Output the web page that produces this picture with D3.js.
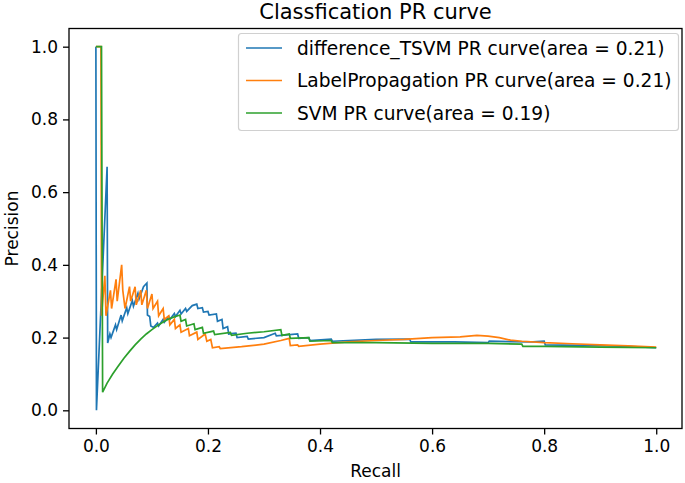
<!DOCTYPE html>
<html>
<head>
<meta charset="utf-8">
<script src="https://cdn.jsdelivr.net/npm/d3@7"></script>
<style>
  html, body { margin: 0; padding: 0; background: #fff; }
  svg { display: block; font-family: "DejaVu Sans", sans-serif; }
</style>
</head>
<body>
<svg id="chart" width="685" height="483"></svg>
<script>
// ---------- data ----------
const seriesNames = [
  "difference_TSVM PR curve(area = 0.21)",
  "LabelPropagation PR curve(area = 0.21)",
  "SVM PR curve(area = 0.19)"
];
const seriesColors = ["#1f77b4", "#ff7f0e", "#2ca02c"];

const tsvmRecall = [0, 0.001, 0.020, 0.021, 0.025, 0.027, 0.035, 0.037, 0.045, 0.047, 0.055, 0.057, 0.065, 0.067, 0.075, 0.077, 0.085, 0.091, 0.092, 0.096, 0.098, 0.103, 0.110, 0.112, 0.120, 0.122, 0.130, 0.132, 0.140, 0.142, 0.150, 0.152, 0.160, 0.162, 0.172, 0.180, 0.182, 0.190, 0.192, 0.200, 0.202, 0.215, 0.217, 0.225, 0.227, 0.235, 0.237, 0.250, 0.252, 0.270, 0.272, 0.300, 0.320, 0.322, 0.360, 0.362, 0.380, 0.382, 0.420, 0.422, 0.500, 0.560, 0.562, 0.640, 0.700, 0.702, 0.780, 0.800, 0.802, 0.900, 0.950, 1.000];
const tsvmPrecision = [1.0, 0.0, 0.67, 0.185, 0.210, 0.200, 0.235, 0.222, 0.262, 0.246, 0.282, 0.266, 0.302, 0.286, 0.322, 0.306, 0.340, 0.350, 0.262, 0.258, 0.232, 0.228, 0.240, 0.232, 0.250, 0.242, 0.258, 0.250, 0.266, 0.258, 0.275, 0.265, 0.280, 0.272, 0.288, 0.292, 0.280, 0.282, 0.270, 0.272, 0.262, 0.265, 0.245, 0.250, 0.225, 0.230, 0.210, 0.212, 0.200, 0.203, 0.196, 0.200, 0.212, 0.205, 0.210, 0.198, 0.200, 0.192, 0.196, 0.190, 0.195, 0.196, 0.188, 0.188, 0.186, 0.190, 0.188, 0.190, 0.180, 0.178, 0.176, 0.172];

const lpRecall = [0, 0.009, 0.010, 0.016, 0.018, 0.026, 0.028, 0.036, 0.038, 0.046, 0.048, 0.052, 0.060, 0.062, 0.070, 0.072, 0.080, 0.082, 0.090, 0.092, 0.100, 0.102, 0.110, 0.112, 0.120, 0.122, 0.130, 0.132, 0.140, 0.142, 0.150, 0.152, 0.165, 0.167, 0.180, 0.182, 0.195, 0.198, 0.205, 0.208, 0.220, 0.222, 0.260, 0.300, 0.330, 0.345, 0.347, 0.360, 0.362, 0.400, 0.450, 0.500, 0.550, 0.600, 0.650, 0.680, 0.700, 0.720, 0.740, 0.760, 0.800, 0.850, 0.900, 0.950, 1.000];
const lpPrecision = [1.0, 1.0, 0.26, 0.37, 0.26, 0.33, 0.28, 0.36, 0.30, 0.40, 0.33, 0.28, 0.34, 0.30, 0.34, 0.29, 0.33, 0.29, 0.33, 0.28, 0.32, 0.28, 0.30, 0.26, 0.28, 0.25, 0.26, 0.235, 0.25, 0.225, 0.235, 0.215, 0.225, 0.205, 0.215, 0.195, 0.210, 0.190, 0.195, 0.172, 0.175, 0.170, 0.175, 0.182, 0.192, 0.198, 0.178, 0.180, 0.176, 0.182, 0.188, 0.192, 0.195, 0.200, 0.202, 0.206, 0.204, 0.200, 0.193, 0.190, 0.186, 0.183, 0.180, 0.177, 0.174];

const svmRecall = [0, 0.010, 0.012, 0.020, 0.030, 0.040, 0.050, 0.060, 0.070, 0.080, 0.090, 0.100, 0.110, 0.120, 0.130, 0.140, 0.150, 0.152, 0.160, 0.162, 0.175, 0.177, 0.190, 0.192, 0.210, 0.212, 0.240, 0.242, 0.270, 0.300, 0.330, 0.332, 0.345, 0.347, 0.380, 0.382, 0.420, 0.422, 0.500, 0.600, 0.700, 0.760, 0.762, 0.800, 0.900, 1.000];
const svmPrecision = [1.0, 1.0, 0.050, 0.075, 0.100, 0.122, 0.143, 0.162, 0.180, 0.196, 0.210, 0.222, 0.233, 0.243, 0.251, 0.257, 0.262, 0.245, 0.250, 0.232, 0.238, 0.222, 0.228, 0.212, 0.218, 0.208, 0.214, 0.206, 0.212, 0.216, 0.222, 0.206, 0.210, 0.198, 0.200, 0.190, 0.192, 0.186, 0.186, 0.184, 0.184, 0.182, 0.176, 0.176, 0.174, 0.172];

const xTicks = [0.0, 0.2, 0.4, 0.6, 0.8, 1.0];
const yTicks = [0.0, 0.2, 0.4, 0.6, 0.8, 1.0];
const titleText = "Classfication PR curve";
const xLabelText = "Recall";
const yLabelText = "Precision";

// ---------- layout ----------
const svg = d3.select("#chart");
const axLeft = 69, axRight = 682, axTop = 28.5, axBottom = 428.5;

const x = d3.scaleLinear().domain([-0.048, 1.046]).range([axLeft, axRight]);
const y = d3.scaleLinear().domain([-0.05, 1.05]).range([axBottom, axTop]);

svg.append("defs").append("clipPath").attr("id", "clip")
  .append("rect").attr("x", axLeft).attr("y", axTop)
  .attr("width", axRight - axLeft).attr("height", axBottom - axTop);

const series = [
  { name: seriesNames[0], color: seriesColors[0], r: tsvmRecall, p: tsvmPrecision },
  { name: seriesNames[1], color: seriesColors[1], r: lpRecall, p: lpPrecision },
  { name: seriesNames[2], color: seriesColors[2], r: svmRecall, p: svmPrecision }
];

const line = d3.line().x(d => x(d[0])).y(d => y(d[1]));

const plot = svg.append("g").attr("clip-path", "url(#clip)");
series.forEach(s => {
  plot.append("path")
    .datum(s.r.map((v, i) => [v, s.p[i]]))
    .attr("d", line)
    .attr("fill", "none")
    .attr("stroke", s.color)
    .attr("stroke-width", 1.7)
    .attr("stroke-linejoin", "miter");
});

// axes
const fontSize = 17;
const xAxis = d3.axisBottom(x).tickValues(xTicks).tickFormat(d3.format(".1f"))
  .tickSize(6).tickPadding(5);
const yAxis = d3.axisLeft(y).tickValues(yTicks).tickFormat(d3.format(".1f"))
  .tickSize(6).tickPadding(5);

const gx = svg.append("g").attr("transform", `translate(0,${axBottom})`).call(xAxis);
const gy = svg.append("g").attr("transform", `translate(${axLeft},0)`).call(yAxis);
[gx, gy].forEach(g => {
  g.select(".domain").remove();
  g.selectAll(".tick line").attr("stroke", "#000").attr("stroke-width", 1.3);
  g.selectAll(".tick text").attr("fill", "#000")
    .style("font-family", "DejaVu Sans").style("font-size", fontSize + "px");
});

// frame
svg.append("rect").attr("x", axLeft).attr("y", axTop)
  .attr("width", axRight - axLeft).attr("height", axBottom - axTop)
  .attr("fill", "none").attr("stroke", "#000").attr("stroke-width", 1.3);

// labels
svg.append("text").attr("x", (axLeft + axRight) / 2).attr("y", 19)
  .attr("text-anchor", "middle").style("font-size", "21px").text(titleText);
svg.append("text").attr("x", (axLeft + axRight) / 2).attr("y", 477)
  .attr("text-anchor", "middle").style("font-size", fontSize + "px").text(xLabelText);
svg.append("text").attr("transform", `translate(18,${(axTop + axBottom) / 2}) rotate(-90)`)
  .attr("text-anchor", "middle").style("font-size", fontSize + "px").text(yLabelText);

// legend
const lg = svg.append("g");
lg.append("rect").attr("x", 238.5).attr("y", 33.5).attr("width", 440).attr("height", 97)
  .attr("rx", 3).attr("fill", "#fff").attr("fill-opacity", 0.8)
  .attr("stroke", "#d0d0d0").attr("stroke-width", 1.2);
series.forEach((s, i) => {
  const cy = 48 + i * 32.5;
  lg.append("line").attr("x1", 246).attr("x2", 282).attr("y1", cy).attr("y2", cy)
    .attr("stroke", s.color).attr("stroke-width", 1.7);
  lg.append("text").attr("x", 297).attr("y", cy).attr("dy", "0.35em")
    .style("font-size", "18.6px").text(s.name);
});
</script>
</body>
</html>
